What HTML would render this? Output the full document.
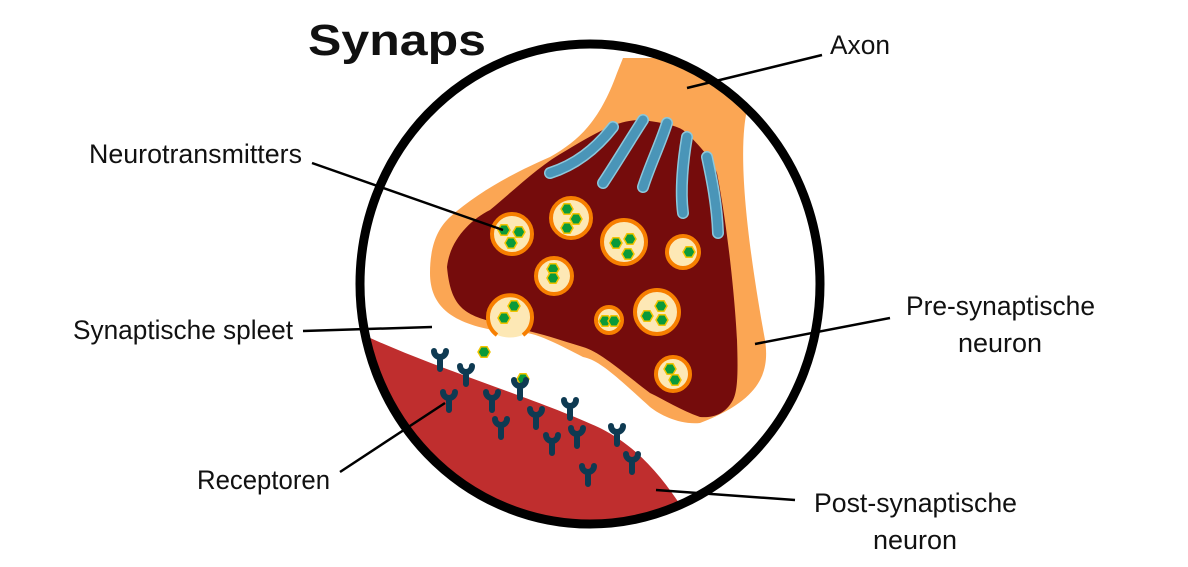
<!DOCTYPE html>
<html><head><meta charset="utf-8"><style>
html,body{margin:0;padding:0;background:#fff;width:1188px;height:567px;overflow:hidden;}
svg{display:block}
text{font-family:"Liberation Sans Narrow","Liberation Sans",sans-serif;font-size:27px;fill:#111}
</style></head><body>
<svg width="1188" height="567" viewBox="0 0 1188 567" xmlns="http://www.w3.org/2000/svg">
<defs>
<clipPath id="c"><ellipse cx="590" cy="284" rx="230" ry="240"/></clipPath>
<g id="rec"><path d="M0,12 L0,0 M-6,-6 a6,6 0 1 0 12,0" fill="none" stroke="#0e3a52" stroke-width="6" stroke-linecap="round"/></g>
<g id="nt"><polygon points="6,0 3,5.2 -3,5.2 -6,0 -3,-5.2 3,-5.2" fill="#0a9a3a" stroke="#f2c400" stroke-width="1.5"/></g>
</defs>
<g clip-path="url(#c)">
<path d="M368,337 C440,370 540,400 600,428 C640,448 665,480 690,520 L700,600 L300,600 Z" fill="#bf2e2e"/>
<path d="M623,58 L745,58 L747,110 C738,150 745,230 765,340 C770,373 760,400 700,423 C680,425 660,415 650,407 C620,380 600,360 583,357 C560,345 540,335 527,333 L493,330 C450,322 430,305 430,273 C430,245 438,228 450,217 C480,190 520,170 550,157 C580,140 600,120 617,73 Z" fill="#fba654"/>
<path d="M447,267 C450,240 470,220 490,210 C520,185 540,165 567,150 C600,130 620,120 640,120 C660,122 675,125 683,130 C700,145 712,160 717,173 C728,230 735,300 737,340 C738,370 738,390 733,400 C725,415 712,418 700,417 C680,410 665,400 650,393 C620,370 600,352 583,347 C560,340 540,333 523,330 C505,325 490,322 477,317 C460,310 450,300 447,267 Z" fill="#750c0c"/>
<g fill="none" stroke-linecap="round">
<g stroke="#8cc8dc" stroke-width="12"><path d="M550,173 C575,165 595,150 613,127"/><path d="M603,183 C615,165 630,140 643,120"/><path d="M643,187 C650,165 660,145 667,123"/><path d="M683,213 C680,190 683,160 687,137"/><path d="M718,233 C717,205 712,180 707,157"/></g>
<g stroke="#4a95b8" stroke-width="9"><path d="M550,173 C575,165 595,150 613,127"/><path d="M603,183 C615,165 630,140 643,120"/><path d="M643,187 C650,165 660,145 667,123"/><path d="M683,213 C680,190 683,160 687,137"/><path d="M718,233 C717,205 712,180 707,157"/></g>
</g>
<g fill="#fde8b5" stroke="#f77f00" stroke-width="4">
<circle cx="512" cy="234" r="20"/><circle cx="571" cy="218" r="20"/><circle cx="624" cy="242" r="22"/><circle cx="683" cy="252" r="16"/><circle cx="554" cy="276" r="18"/><circle cx="609" cy="320" r="13"/><circle cx="657" cy="312" r="22"/><circle cx="673" cy="374" r="17"/>
<path d="M497,335 A22,22 0 1 1 523,335" />
</g>
<path d="M497,335 Q510,340 523,335" fill="#fde8b5"/>
<g>
<use href="#nt" x="504" y="230"/><use href="#nt" x="519" y="232"/><use href="#nt" x="511" y="243"/>
<use href="#nt" x="567" y="209"/><use href="#nt" x="576" y="219"/><use href="#nt" x="567" y="228"/>
<use href="#nt" x="616" y="243"/><use href="#nt" x="630" y="239"/><use href="#nt" x="628" y="254"/>
<use href="#nt" x="689" y="252"/>
<use href="#nt" x="553" y="269"/><use href="#nt" x="553" y="278"/>
<use href="#nt" x="504" y="318"/><use href="#nt" x="514" y="306"/>
<use href="#nt" x="605" y="321"/><use href="#nt" x="614" y="321"/>
<use href="#nt" x="647" y="316"/><use href="#nt" x="661" y="306"/><use href="#nt" x="662" y="320"/>
<use href="#nt" x="670" y="369"/><use href="#nt" x="675" y="380"/>
<use href="#nt" x="484" y="352"/><use href="#nt" x="523" y="379"/>
</g>
<g>
<use href="#rec" x="440" y="357"/><use href="#rec" x="466" y="372"/><use href="#rec" x="449" y="398"/><use href="#rec" x="492" y="398"/><use href="#rec" x="520" y="386"/><use href="#rec" x="501" y="425"/><use href="#rec" x="536" y="415"/><use href="#rec" x="552" y="441"/><use href="#rec" x="577" y="434"/><use href="#rec" x="570" y="406"/><use href="#rec" x="617" y="432"/><use href="#rec" x="588" y="472"/><use href="#rec" x="632" y="460"/>
</g>
</g>
<ellipse cx="590" cy="284" rx="230" ry="240" fill="none" stroke="#000" stroke-width="9"/>
<g stroke="#000" stroke-width="2.5">
<line x1="687" y1="88" x2="822" y2="55"/><line x1="312" y1="163" x2="503" y2="230"/><line x1="303" y1="331" x2="432" y2="327"/><line x1="340" y1="472" x2="445" y2="403"/><line x1="755" y1="344" x2="890" y2="318"/><line x1="656" y1="490" x2="795" y2="500"/>
</g>
<text x="308" y="55" style="font-family:'Liberation Sans',sans-serif;font-weight:bold;font-size:44px" textLength="178" lengthAdjust="spacingAndGlyphs">Synaps</text>
<text x="830" y="54" textLength="60" lengthAdjust="spacingAndGlyphs">Axon</text>
<text x="89" y="163" textLength="213" lengthAdjust="spacingAndGlyphs">Neurotransmitters</text>
<text x="73" y="339" textLength="220" lengthAdjust="spacingAndGlyphs">Synaptische spleet</text>
<text x="197" y="489" textLength="133" lengthAdjust="spacingAndGlyphs">Receptoren</text>
<text x="906" y="315" textLength="189" lengthAdjust="spacingAndGlyphs">Pre-synaptische</text>
<text x="958" y="352" textLength="84" lengthAdjust="spacingAndGlyphs">neuron</text>
<text x="814" y="512" textLength="203" lengthAdjust="spacingAndGlyphs">Post-synaptische</text>
<text x="873" y="549" textLength="84" lengthAdjust="spacingAndGlyphs">neuron</text>
</svg>
</body></html>
